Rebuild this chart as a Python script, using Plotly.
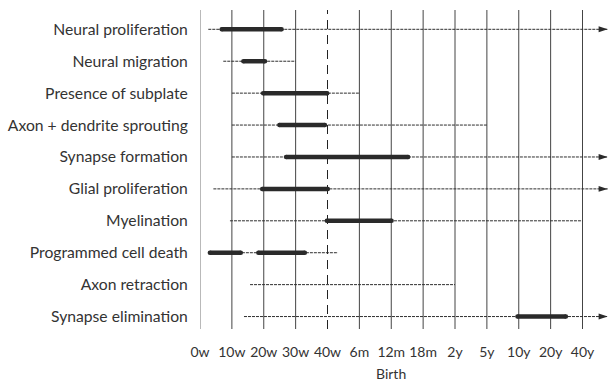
import plotly.graph_objects as go

# ---- data ----
categories = [
    "Neural proliferation",
    "Neural migration",
    "Presence of subplate",
    "Axon + dendrite sprouting",
    "Synapse formation",
    "Glial proliferation",
    "Myelination",
    "Programmed cell death",
    "Axon retraction",
    "Synapse elimination",
]
tick_labels = ["0w", "10w", "20w", "30w", "40w", "6m", "12m", "18m", "2y", "5y", "10y", "20y", "40y"]
birth_index = 4

# full extent of each process (positions in tick-index units)
range_start = [0.26, 0.73, 1.0, 1.0, 1.0, 0.42, 0.94, 0.31, 1.57, 1.38]
range_end = [12.79, 3.0, 5.0, 9.0, 12.79, 12.79, 12.0, 4.33, 8.0, 12.79]
continues = [True, False, False, False, True, True, False, False, False, True]

# peak periods (row index, start, end)
peak_row = [0, 1, 2, 3, 4, 5, 6, 7, 7, 9]
peak_start = [0.68, 1.36, 1.98, 2.49, 2.70, 1.95, 3.98, 0.31, 1.83, 9.96]
peak_end = [2.56, 2.04, 3.99, 3.92, 6.53, 4.01, 6.01, 1.28, 3.29, 11.48]

INK = "#2a2a2a"
FONT = "Lato"
TXT = "#333333"
FS = 15.7

fig = go.Figure()

# thin range lines
for i, cat in enumerate(categories):
    fig.add_trace(go.Scatter(
        x=[range_start[i], range_end[i]], y=[cat, cat], mode="lines",
        line=dict(color="#2e2e2e", width=1, dash="3px,1px"),
        hoverinfo="skip", showlegend=False, cliponaxis=False))

# peak bars
for k in range(len(peak_row)):
    cat = categories[peak_row[k]]
    fig.add_trace(go.Scatter(
        x=[peak_start[k], peak_end[k]], y=[cat, cat], mode="lines+markers",
        line=dict(color=INK, width=4.5),
        marker=dict(color=INK, size=4.5, symbol="circle"),
        hoverinfo="skip", showlegend=False, cliponaxis=False))

# arrow heads for processes that continue
arr_x = [range_end[i] for i in range(len(categories)) if continues[i]]
arr_y = [categories[i] for i in range(len(categories)) if continues[i]]
fig.add_trace(go.Scatter(
    x=arr_x, y=arr_y, mode="markers",
    marker=dict(symbol="arrow", angle=90, size=9.5, color=INK, line=dict(width=0)),
    hoverinfo="skip", showlegend=False, cliponaxis=False))

# vertical grid lines
shapes = []
for j, lab in enumerate(tick_labels):
    if j == 0:
        style = dict(color="#8a8a8a", width=1.2)
    elif j == birth_index:
        style = dict(color="#222222", width=1, dash="9px,6px")
    else:
        style = dict(color="#444444", width=1)
    shapes.append(dict(type="line", xref="x", yref="paper", x0=j, x1=j, y0=0, y1=1,
                       line=style, layer="below"))

fig.update_layout(
    width=609, height=381,
    margin=dict(l=200, r=1, t=10, b=52),
    plot_bgcolor="white", paper_bgcolor="white",
    font=dict(family=FONT, size=FS, color=TXT),
    shapes=shapes,
    annotations=[dict(text="Birth", x=6, xref="x", y=0, yref="paper", yshift=-44,
                      showarrow=False, yanchor="middle", font=dict(size=14, family=FONT, color=TXT))],
)
fig.update_xaxes(
    range=[0, 12.8], tickmode="array", tickvals=list(range(len(tick_labels))), ticktext=tick_labels,
    showgrid=False, zeroline=False, showline=False, ticks="", ticklabelstandoff=13,
    tickfont=dict(size=14, family=FONT, color=TXT),
)
fig.update_yaxes(
    type="category", categoryorder="array", categoryarray=categories,
    range=[9.39, -0.605], showgrid=False, zeroline=False, showline=False,
    ticks="outside", ticklen=8, tickcolor="rgba(0,0,0,0)",
    tickfont=dict(size=FS, family=FONT, color=TXT),
)

fig.write_html("out.html", config={"displayModeBar": False},
               post_script="document.body.style.margin='0';document.body.style.overflow='hidden';")
